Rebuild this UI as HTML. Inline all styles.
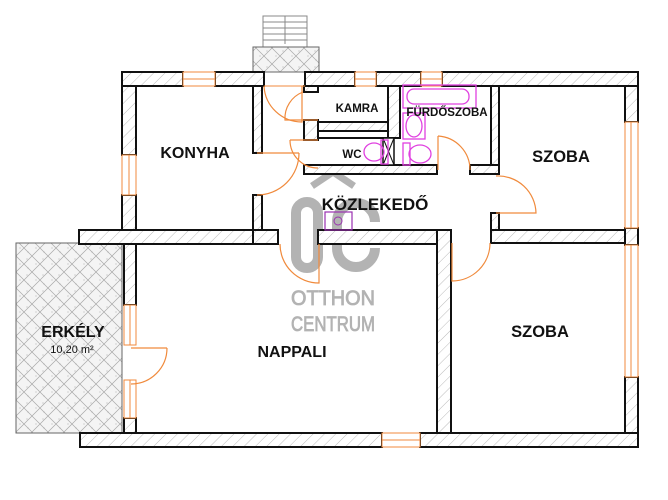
<!DOCTYPE html>
<html><head><meta charset="utf-8"><style>
html,body{margin:0;padding:0;background:#fff;}
svg{display:block}
.t{font-family:"Liberation Sans",sans-serif;font-weight:bold;fill:#111;text-anchor:middle}
</style></head><body>
<svg width="668" height="500" viewBox="0 0 668 500" xmlns="http://www.w3.org/2000/svg">
<defs>
<pattern id="h" width="8" height="8" patternUnits="userSpaceOnUse" patternTransform="rotate(45)">
<rect width="8" height="8" fill="#fff"/><line x1="0" y1="0" x2="0" y2="8" stroke="#bbb" stroke-width="1"/></pattern>
<pattern id="x" width="16" height="16" patternUnits="userSpaceOnUse">
<rect width="16" height="16" fill="#f4f4f4"/><path d="M0 0L16 16M16 0L0 16" stroke="#a8a8a8" stroke-width="0.7"/>
<circle cx="4" cy="8" r="0.5" fill="#999"/><circle cx="11" cy="3" r="0.5" fill="#999"/><circle cx="12" cy="12" r="0.5" fill="#999"/></pattern>
</defs>

<g stroke="#888" fill="none" stroke-width="1">
<rect x="263" y="16" width="44" height="31"/>
<line x1="263" y1="22" x2="307" y2="22"/><line x1="263" y1="28" x2="307" y2="28"/><line x1="263" y1="34" x2="307" y2="34"/><line x1="263" y1="40" x2="307" y2="40"/>
<line x1="285" y1="16" x2="285" y2="44"/>
</g>
<rect x="253" y="47" width="66" height="25" fill="url(#x)" stroke="#666"/>
<rect x="16" y="243" width="106" height="190" fill="url(#x)" stroke="#666"/>

<g stroke="#b3b3b3" fill="none" stroke-width="10">
<rect x="296" y="202" width="22" height="66" rx="11"/>
<path d="M375 222 A 19 19 0 0 0 337 222 L337 248 A 19 19 0 0 0 375 248"/>
<path d="M312 186 L333 172 L354 186" stroke-width="7"/>
</g>
<g font-family="Liberation Sans,sans-serif" font-size="21" fill="#b3b3b3" stroke="#b3b3b3" stroke-width="0.8" text-anchor="middle">
<text x="333" y="305" textLength="84" lengthAdjust="spacingAndGlyphs">OTTHON</text>
<text x="333" y="331" textLength="84" lengthAdjust="spacingAndGlyphs">CENTRUM</text>
</g>

<g fill="url(#h)" stroke="#111" stroke-width="2">
<rect x="122" y="72" width="61" height="14"/>
<rect x="215" y="72" width="49" height="14"/>
<rect x="305" y="72" width="50" height="14"/>
<rect x="376" y="72" width="45" height="14"/>
<rect x="442" y="72" width="196" height="14"/>
<rect x="122" y="86" width="14" height="69"/>
<rect x="122" y="195" width="14" height="35"/>
<rect x="79" y="230" width="199" height="14"/>
<rect x="253" y="86" width="9" height="67"/>
<rect x="253" y="195" width="9" height="35"/>
<rect x="304" y="86" width="14" height="6"/>
<rect x="304" y="120" width="14" height="20"/>
<rect x="304" y="166" width="14" height="8"/>
<rect x="318" y="122" width="70" height="9"/>
<rect x="388" y="86" width="12" height="52"/>
<rect x="304" y="165" width="133" height="9"/>
<rect x="491" y="86" width="8" height="88"/>
<rect x="470" y="165" width="29" height="9"/>
<rect x="491" y="213" width="8" height="30"/>
<rect x="491" y="230" width="147" height="13"/>
<rect x="625" y="86" width="13" height="36"/>
<rect x="625" y="228" width="13" height="17"/>
<rect x="625" y="377" width="13" height="70"/>
<rect x="253" y="230" width="25" height="14"/>
<rect x="318" y="230" width="119" height="14"/>
<rect x="437" y="230" width="14" height="203"/>
<rect x="124" y="244" width="12" height="61"/>
<rect x="124" y="418" width="12" height="15"/>
<rect x="80" y="433" width="302" height="14"/>
<rect x="420" y="433" width="218" height="14"/>
</g>
<line x1="318" y1="138" x2="388" y2="138" stroke="#111" stroke-width="2"/>
<rect x="383" y="138" width="11" height="27" fill="#fff" stroke="#111" stroke-width="1.5"/>
<path d="M383 138L394 165M394 138L383 165" stroke="#111" stroke-width="1"/>

<g fill="#fff" stroke="#f08a3c" stroke-width="1">
<rect x="183" y="72" width="32" height="14"/><line x1="183" y1="79" x2="215" y2="79"/>
<rect x="122" y="155" width="14" height="40"/><line x1="129" y1="155" x2="129" y2="195"/>
<rect x="355" y="72" width="21" height="14"/><line x1="355" y1="79" x2="376" y2="79"/>
<rect x="421" y="72" width="21" height="14"/><line x1="421" y1="79" x2="442" y2="79"/>
<rect x="625" y="122" width="13" height="106"/><line x1="631" y1="122" x2="631" y2="228"/>
<rect x="625" y="245" width="13" height="132"/><line x1="631" y1="245" x2="631" y2="377"/>
<rect x="124" y="305" width="12" height="40"/><line x1="130" y1="305" x2="130" y2="345"/>
<rect x="124" y="380" width="12" height="38"/><line x1="130" y1="380" x2="130" y2="418"/>
<rect x="382" y="433" width="38" height="14"/><line x1="382" y1="440" x2="420" y2="440"/>
<line x1="264" y1="86" x2="305" y2="86"/>
</g>

<g fill="none" stroke="#f08a3c" stroke-width="1.2">
<path d="M264 86 A38 38 0 0 0 302 122 L302 86"/>
<path d="M303 92 A28 28 0 0 0 285 120 L318 120"/>
<path d="M290 140 A28 28 0 0 0 318 168 M290 140 L318 140"/>
<path d="M299 153 A42 42 0 0 1 257 195 M257 153 L299 153"/>
<path d="M438 136 A34 34 0 0 1 470 170 M438 136 L438 170"/>
<path d="M496 176 A38 38 0 0 1 536 213 L496 213"/>
<path d="M280 244 A39 39 0 0 0 319 283 L319 244"/>
<path d="M490 243 A38 38 0 0 1 452 281 L452 243"/>
<path d="M167 348 A36 36 0 0 1 131 384 M131 348 L167 348"/>
</g>

<g fill="none" stroke="#e040e0" stroke-width="1.3">
<rect x="403" y="85" width="73" height="23"/><rect x="407" y="89" width="62" height="15" rx="7"/>
<rect x="403" y="113" width="22" height="26"/><ellipse cx="414" cy="126" rx="8" ry="11"/>
<rect x="403" y="143" width="7" height="22"/><ellipse cx="420" cy="154" rx="11" ry="9"/>
<rect x="381" y="140" width="7" height="24"/><ellipse cx="374" cy="152" rx="10" ry="9"/>
</g>
<rect x="325" y="212" width="27" height="18" fill="none" stroke="#9a30b0" stroke-width="1.2"/>
<circle cx="338" cy="221" r="4" fill="none" stroke="#9a30b0"/>

<text class="t" x="195" y="158" font-size="16">KONYHA</text>
<text class="t" x="357" y="112" font-size="11.5">KAMRA</text>
<text class="t" x="447" y="116" font-size="11.5">FÜRDŐSZOBA</text>
<text class="t" x="352" y="158" font-size="11.5">WC</text>
<text class="t" x="561" y="162" font-size="16.5">SZOBA</text>
<text class="t" x="375" y="210" font-size="17">KÖZLEKEDŐ</text>
<text class="t" x="292" y="357" font-size="16">NAPPALI</text>
<text class="t" x="540" y="337" font-size="16.5">SZOBA</text>
<text class="t" x="73" y="337" font-size="16">ERKÉLY</text>
<text x="72" y="353" font-family="Liberation Sans,sans-serif" font-size="11" fill="#111" text-anchor="middle">10,20 m²</text>
</svg>
</body></html>
